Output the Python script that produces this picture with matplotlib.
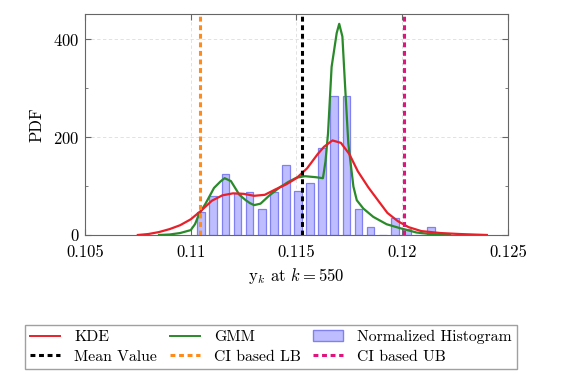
import matplotlib
matplotlib.use("Agg")
import matplotlib.pyplot as plt
from matplotlib.patches import Patch
from matplotlib.lines import Line2D
from matplotlib.ticker import MultipleLocator, FixedLocator

# histogram (20 bins)
hist_left = 0.11021
hist_width = 0.000572
hist_heights = [47, 80, 124, 85, 88, 53, 88, 143, 90, 107,
                177, 284, 284, 53, 17, 0, 34, 12, 0, 17]

# KDE curve
kde_x = [0.1075, 0.1080, 0.1085, 0.1090, 0.1095, 0.1100, 0.1105, 0.1110,
         0.1115, 0.1120, 0.1125, 0.1130, 0.1135, 0.1140, 0.1145, 0.1150,
         0.1155, 0.1160, 0.1163, 0.1167, 0.1171, 0.1175, 0.1179, 0.1184,
         0.1189, 0.1193, 0.1198, 0.1203, 0.1209, 0.1218, 0.1227, 0.1240]
kde_y = [0, 2, 6, 12, 20, 32, 50, 70,
         81, 85, 84, 80, 82, 93, 103, 116,
         136, 165, 180, 193, 188, 165, 130, 97,
         68, 45, 28, 16, 8, 4, 2, 0]

# GMM curve
gmm_x = [0.1085, 0.1090, 0.1095, 0.1100, 0.1102, 0.1104, 0.1107, 0.1109,
         0.1111, 0.1114, 0.1116, 0.1119, 0.1121, 0.1123, 0.1126, 0.1128,
         0.1130, 0.1133, 0.1137, 0.1142, 0.1146, 0.1150, 0.1154, 0.1159,
         0.11625, 0.11637, 0.11649, 0.11666, 0.1169, 0.11702, 0.11717,
         0.11729, 0.11745, 0.11769, 0.11785, 0.11816, 0.11863, 0.11926,
         0.11989, 0.12068, 0.12131, 0.12226]
gmm_y = [0, 1, 4, 10, 22, 43, 64, 80,
         96, 109, 116, 110, 96, 82, 71, 65,
         61, 64, 80, 97, 108, 117, 120, 118,
         116, 150, 207, 343, 412, 431, 405,
         310, 187, 99, 71, 54, 37, 22,
         14, 5, 2, 0]

mean_value = 0.11524
ci_lb = 0.11044
ci_ub = 0.12010

plt.rcParams["font.family"] = "cmr10"
plt.rcParams["mathtext.fontset"] = "cm"
plt.rcParams["axes.formatter.use_mathtext"] = True

fig = plt.figure(figsize=(5.64, 3.72), dpi=100)
ax = fig.add_axes([0.1507, 0.3683, 0.75, 0.594])

centers = [hist_left + (i + 0.5) * hist_width for i in range(len(hist_heights))]
ax.bar(centers, hist_heights, width=hist_width * 0.64,
       facecolor=(0.74, 0.74, 1.0), edgecolor=(0.5, 0.5, 0.95), linewidth=0.9,
       zorder=2)

ax.plot(kde_x, kde_y, color="#e8202a", lw=1.6, zorder=4)
ax.plot(gmm_x, gmm_y, color="#2a8a2a", lw=1.6, zorder=3)

dash = (0, (1.6, 1.2))
ax.axvline(mean_value, color="black", lw=2.2, ls=dash, zorder=5)
ax.axvline(ci_lb, color="#ff8c1a", lw=2.2, ls=dash, zorder=5)
ax.axvline(ci_ub, color="#e0147d", lw=2.2, ls=dash, zorder=5)

ax.set_xlim(0.105, 0.125)
ax.set_ylim(0, 451)
ax.xaxis.set_major_locator(FixedLocator([0.105, 0.11, 0.115, 0.12, 0.125]))
ax.set_xticklabels(["0.105", "0.11", "0.115", "0.12", "0.125"])
ax.yaxis.set_major_locator(MultipleLocator(200))
ax.yaxis.set_minor_locator(MultipleLocator(100))
ax.tick_params(direction="in", top=True, right=True, which="both",
               labelsize=12, color="#666666")
ax.tick_params(which="major", length=4)
ax.tick_params(which="minor", length=2.5)
ax.tick_params(axis="x", pad=7)
ax.tick_params(axis="y", pad=4)
for s in ax.spines.values():
    s.set_color("#666666")
ax.grid(True, which="major", color="#dddddd", ls=(0, (4, 3)), lw=0.6, zorder=0)

ax.set_xlabel(r"$\mathrm{y}_k$ at $k = 550$", fontsize=12, labelpad=4)
ax.set_ylabel("PDF", fontsize=12, labelpad=6)

handles = [
    Line2D([], [], color="#e8202a", lw=1.4),
    Line2D([], [], color="black", lw=2.2, ls=dash),
    Line2D([], [], color="#2a8a2a", lw=1.4),
    Line2D([], [], color="#ff8c1a", lw=2.2, ls=dash),
    Patch(facecolor=(0.74, 0.74, 1.0), edgecolor=(0.5, 0.5, 0.95)),
    Line2D([], [], color="#e0147d", lw=2.2, ls=dash),
]
labels = ["KDE", "Mean Value", "GMM", "CI based LB", "Normalized Histogram", "CI based UB"]
fig.legend(handles, labels, ncol=3, loc="upper left", bbox_to_anchor=(0.044, 0.127),
           fontsize=11.3, frameon=True, fancybox=False, edgecolor="#888888",
           handlelength=1.9, handletextpad=0.9, columnspacing=0.8,
           labelspacing=0.35, borderpad=0.35, borderaxespad=0)

fig.savefig("out.png", dpi=100)
